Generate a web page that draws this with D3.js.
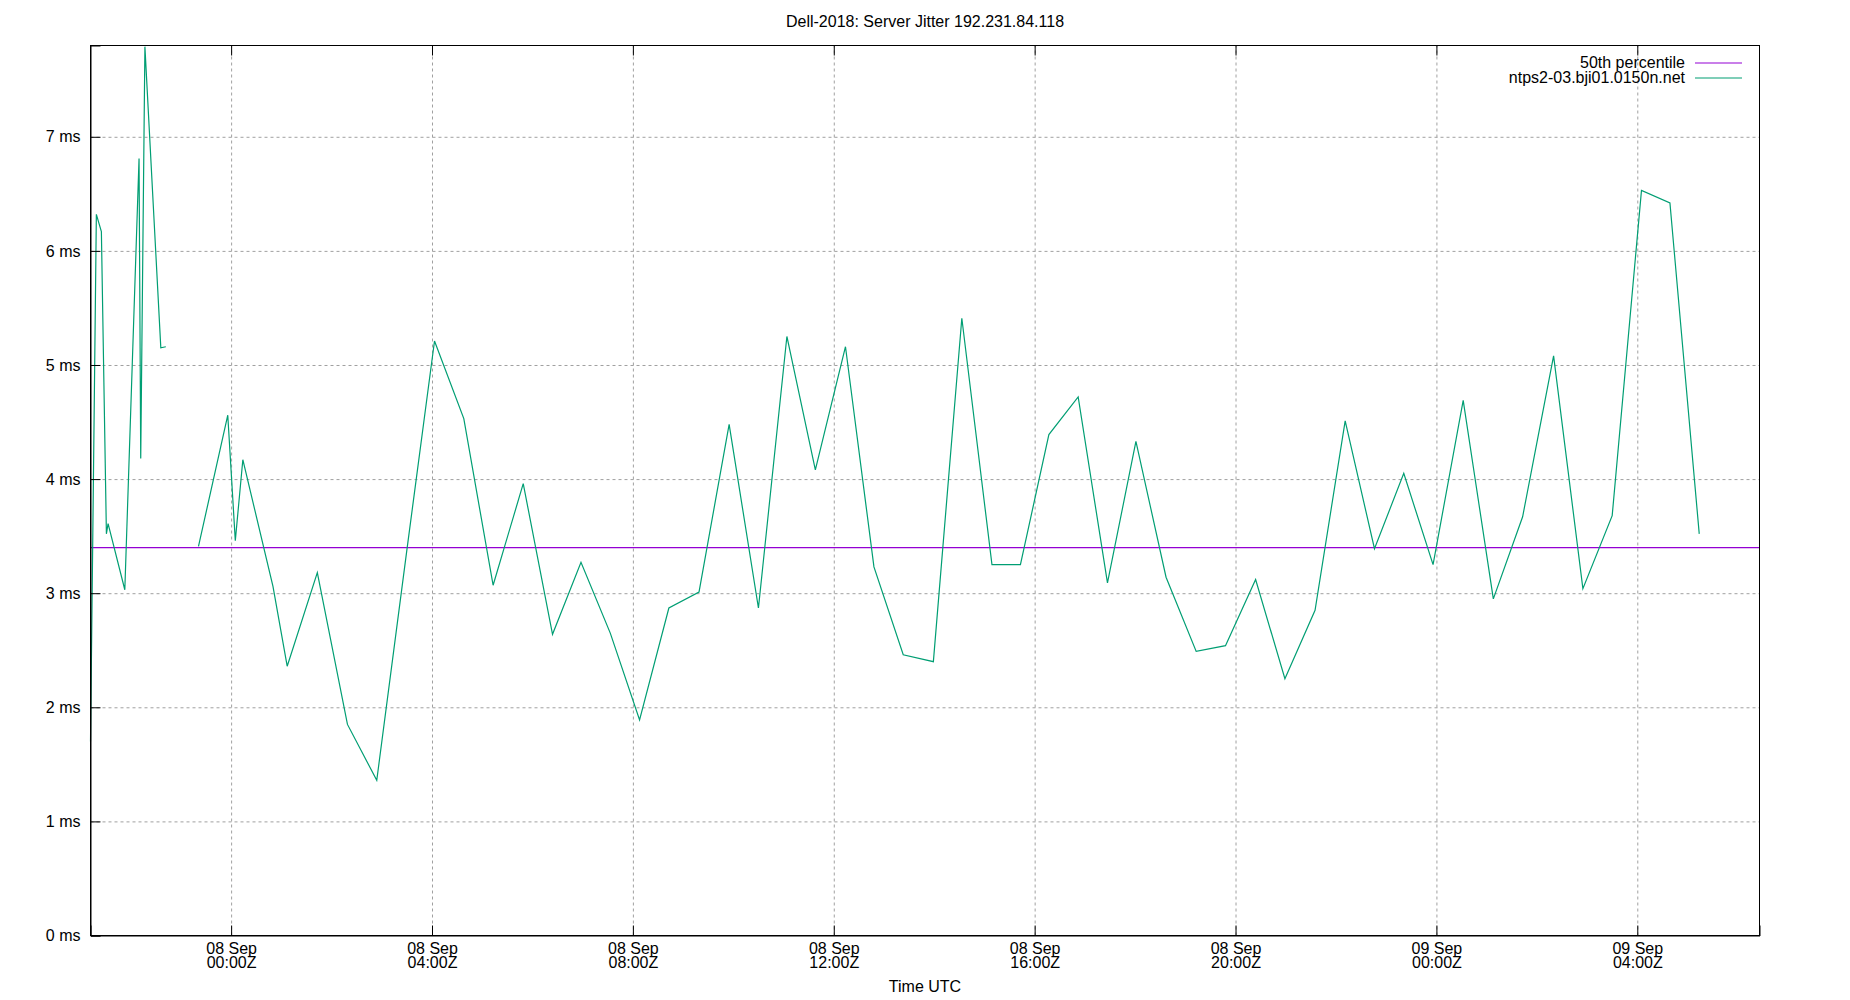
<!DOCTYPE html>
<html>
<head>
<meta charset="utf-8">
<script src="https://cdn.jsdelivr.net/npm/d3@7"></script>
<style>
	body { margin: 0; background: #fff; }
	text { font-family: "Liberation Sans", Arial, sans-serif; font-size: 16px; fill: #000; }
	.grid line { stroke: #a0a0a0; stroke-dasharray: 3,3; }
	.grid path { display: none; }
</style>
</head>
<body>
<div id="chart"></div>
<script>
/*
DATA
*/
const chartTitle = "Dell-2018: Server Jitter 192.231.84.118";
const seriesNames = ["50th percentile", "ntps2-03.bji01.0150n.net"];
const xDomain = ["2018-09-07T21:12", "2018-09-09T06:26"];
const yTicks = [0, 1, 2, 3, 4, 5, 6, 7];
const yMax = 7.8;
const medianValue = 3.40;

// poll times (UTC) and jitter in ms; null = gap in the data
const jitterTimes = [
	"2018-09-07T21:12", "2018-09-07T21:19", "2018-09-07T21:25", "2018-09-07T21:31",
	"2018-09-07T21:33", "2018-09-07T21:53", "2018-09-07T22:10", "2018-09-07T22:12",
	"2018-09-07T22:17", "2018-09-07T22:36", "2018-09-07T22:42", "2018-09-07T23:00",
	"2018-09-07T23:21", "2018-09-07T23:56", "2018-09-08T00:05", "2018-09-08T00:14",
	"2018-09-08T00:50", "2018-09-08T01:07", "2018-09-08T01:43", "2018-09-08T02:19",
	"2018-09-08T02:54", "2018-09-08T03:30", "2018-09-08T04:03", "2018-09-08T04:38",
	"2018-09-08T05:13", "2018-09-08T05:49", "2018-09-08T06:24", "2018-09-08T06:58",
	"2018-09-08T07:33", "2018-09-08T08:08", "2018-09-08T08:43", "2018-09-08T09:19",
	"2018-09-08T09:55", "2018-09-08T10:30", "2018-09-08T11:04", "2018-09-08T11:38",
	"2018-09-08T12:14", "2018-09-08T12:48", "2018-09-08T13:23", "2018-09-08T13:59",
	"2018-09-08T14:33", "2018-09-08T15:09", "2018-09-08T15:43", "2018-09-08T16:17",
	"2018-09-08T16:52", "2018-09-08T17:27", "2018-09-08T18:01", "2018-09-08T18:37",
	"2018-09-08T19:13", "2018-09-08T19:48", "2018-09-08T20:24", "2018-09-08T20:59",
	"2018-09-08T21:35", "2018-09-08T22:11", "2018-09-08T22:46", "2018-09-08T23:21",
	"2018-09-08T23:56", "2018-09-09T00:32", "2018-09-09T01:08", "2018-09-09T01:43",
	"2018-09-09T02:20", "2018-09-09T02:55", "2018-09-09T03:30", "2018-09-09T04:05",
	"2018-09-09T04:39", "2018-09-09T05:14"
];
const jitterValues = [
	1.70, 6.32, 6.17, 3.52,
	3.61, 3.03, 6.81, 4.18,
	7.79, 5.15, 5.16, null,
	3.41, 4.56, 3.46, 4.17,
	3.06, 2.36, 3.18, 1.85,
	1.36, 3.38, 5.21, 4.53,
	3.07, 3.96, 2.64, 3.27,
	2.65, 1.89, 2.87, 3.01,
	4.48, 2.87, 5.25, 4.08,
	5.16, 3.23, 2.46, 2.40,
	5.41, 3.25, 3.25, 4.39,
	4.72, 3.09, 4.33, 3.14,
	2.49, 2.54, 3.12, 2.25,
	2.85, 4.51, 3.39, 4.05,
	3.25, 4.69, 2.95, 3.67,
	5.08, 3.04, 3.68, 6.53,
	6.42, 3.52
];

/*
SET UP
*/
const w = 1850;
const h = 1000;
const m = { top: 45.5, right: 90.5, bottom: 64.5, left: 90.5 };
const innerW = w - m.left - m.right;
const innerH = h - m.top - m.bottom;

const parseTime = d3.utcParse("%Y-%m-%dT%H:%M");

const svg = d3
	.select("#chart")
	.append("svg")
	.attr("width", w)
	.attr("height", h);

const g = svg.append("g").attr("transform", `translate(${m.left},${m.top})`);

const x = d3.scaleUtc().domain(xDomain.map(parseTime)).range([0, innerW]);
const y = d3.scaleLinear().domain([0, yMax]).range([innerH, 0]);

const xTicks = d3.utcHour.every(4).range(x.domain()[0], x.domain()[1]);

/*
GRID
*/
g.append("g")
	.attr("class", "grid")
	.attr("transform", `translate(0,${innerH})`)
	.call(d3.axisBottom(x).tickValues(xTicks).tickSize(-innerH).tickFormat(""));

g.append("g")
	.attr("class", "grid")
	.call(d3.axisLeft(y).tickValues(yTicks.filter((d) => d > 0)).tickSize(-innerW).tickFormat(""));

/*
LINES
*/
const jitter = jitterTimes.map((t, i) => ({ date: parseTime(t), value: jitterValues[i] }));
const median = x.domain().map((d) => ({ date: d, value: medianValue }));

const line = d3
	.line()
	.defined((d) => d.value !== null)
	.x((d) => x(d.date))
	.y((d) => y(d.value));

g.append("path")
	.datum(median)
	.attr("d", line)
	.attr("fill", "none")
	.attr("stroke", "#9400d3")
	.attr("stroke-width", 1.3);

g.append("path")
	.datum(jitter)
	.attr("d", line)
	.attr("fill", "none")
	.attr("stroke", "#009e73")
	.attr("stroke-width", 1.2);

/*
AXES
*/
const xAxis = g
	.append("g")
	.attr("transform", `translate(0,${innerH})`)
	.call(d3.axisBottom(x).tickValues(xTicks).tickSize(-10).tickPadding(7).tickFormat(""));

xAxis.selectAll(".tick text")
	.each(function (d) {
		const t = d3.select(this);
		t.append("tspan").attr("x", 0).text(d3.utcFormat("%d %b")(d));
		t.append("tspan").attr("x", 0).attr("dy", "0.88em").text(d3.utcFormat("%H:%MZ")(d));
	});

// mirrored ticks on the top border
g.append("g")
	.call(d3.axisTop(x).tickValues(xTicks).tickSize(-10).tickFormat(""))
	.select(".domain").remove();

g.append("g")
	.call(d3.axisLeft(y).tickValues(yTicks).tickSize(-10).tickPadding(10).tickFormat((d) => d + " ms"));

g.selectAll(".tick line").attr("stroke", "#000");
g.selectAll(".domain").attr("stroke", "#000");
g.selectAll(".tick text").attr("font-size", null).attr("font-family", null).style("fill", "#000");

// border
g.append("rect")
	.attr("width", innerW)
	.attr("height", innerH)
	.attr("fill", "none")
	.attr("stroke", "#000")
	.attr("stroke-width", 1);

/*
TITLES & LEGEND
*/
svg.append("text")
	.attr("x", m.left + innerW / 2)
	.attr("y", 27)
	.attr("text-anchor", "middle")
	.text(chartTitle);

svg.append("text")
	.attr("x", m.left + innerW / 2)
	.attr("y", 992)
	.attr("text-anchor", "middle")
	.text("Time UTC");

const legendColors = ["#9400d3", "#009e73"];
const legend = svg
	.selectAll(".legend")
	.data(seriesNames)
	.join("g")
	.attr("class", "legend")
	.attr("transform", (d, i) => `translate(1685,${63 + i * 15})`);

legend.append("text")
	.attr("text-anchor", "end")
	.attr("dy", "0.32em")
	.text((d) => d);

legend.append("line")
	.attr("x1", 10)
	.attr("x2", 57)
	.attr("stroke", (d, i) => legendColors[i])
	.attr("stroke-width", 1.2);
</script>
</body>
</html>
